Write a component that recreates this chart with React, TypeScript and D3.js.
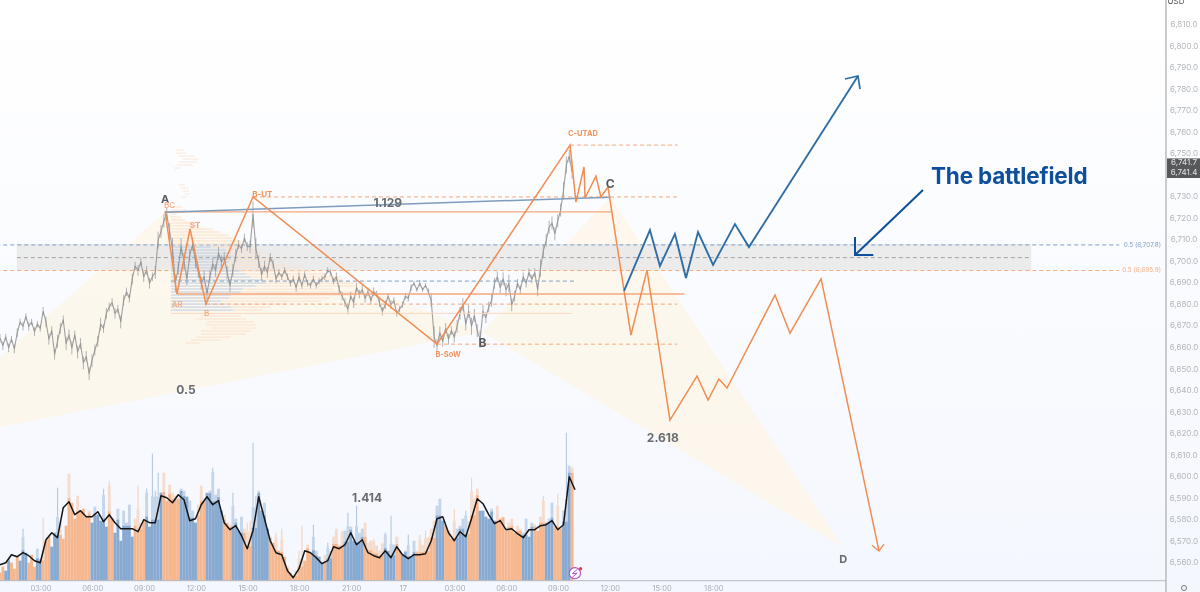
import * as d3 from 'd3';
import React from 'react';

// hours counted from midnight of the 16th
const timeTicks = [3, 6, 9, 12, 15, 18, 21, 24, 27, 30, 33, 36, 39, 42];
const timeLabels = ['03:00', '06:00', '09:00', '12:00', '15:00', '18:00', '21:00', '17', '03:00', '06:00', '09:00', '12:00', '15:00', '18:00'];
const priceTicks = [6560, 6570, 6580, 6590, 6600, 6610, 6620, 6630, 6640, 6650, 6660, 6670, 6680, 6690, 6700, 6710, 6720, 6730, 6740, 6750, 6760, 6770, 6780, 6790, 6800, 6810];

const startHour = 0.623; // first bar, then one bar each 10 minutes
const barHours = 1 / 6;

const closes = [
  6664.5, 6661, 6665, 6660, 6664, 6659.5, 6667, 6672, 6670, 6674.5,
  6670, 6672, 6667.5, 6671, 6669, 6677, 6672, 6664, 6668, 6657,
  6663, 6669, 6673, 6662, 6666, 6660, 6666, 6658, 6662, 6653,
  6656, 6648, 6654, 6659, 6663, 6671, 6669, 6676, 6679, 6681,
  6676, 6678, 6672, 6682, 6686, 6683, 6692, 6698, 6696, 6700,
  6693, 6696, 6690, 6693, 6695, 6710, 6714, 6719, 6722, 6714,
  6706, 6690, 6697, 6707, 6700, 6692, 6703, 6708, 6700, 6695,
  6690, 6693, 6685, 6693, 6699, 6696, 6704, 6700, 6702, 6695,
  6689, 6696, 6703, 6708, 6706, 6711, 6707, 6707, 6722, 6706,
  6700, 6694, 6698, 6695, 6702, 6699, 6692, 6695, 6693, 6696,
  6693, 6690, 6692, 6688, 6693, 6689, 6694, 6690, 6689, 6692,
  6689, 6691, 6692, 6693, 6696, 6695, 6691, 6693, 6687, 6684,
  6681, 6678, 6684, 6681, 6688, 6685, 6687, 6683, 6686, 6682,
  6686, 6685, 6681, 6677, 6680, 6684, 6680, 6682, 6676, 6678,
  6680, 6684, 6683, 6688, 6690, 6687, 6690, 6687, 6689, 6686,
  6682, 6665, 6661, 6667, 6663, 6669, 6664, 6668, 6665, 6670,
  6676, 6680, 6671, 6677, 6670, 6675, 6668, 6664, 6677, 6674,
  6679, 6682, 6690, 6693, 6688, 6692, 6687, 6690, 6680, 6684,
  6690, 6687, 6693, 6690, 6695, 6692, 6695, 6687, 6697, 6705,
  6710, 6716, 6718, 6713, 6719, 6724, 6733, 6745, 6749, 6741.5,
];

const ranges = [
  2, 2, 1.5, 2, 1.5, 2, 2, 1.5, 2, 1.5,
  2, 1.5, 2, 1.5, 1.5, 2, 2.5, 2.5, 2, 2.5,
  3, 2.5, 2, 3, 2.5, 3, 2, 3, 2.5, 3,
  2.5, 3, 3, 2.5, 2.5, 3, 2, 2.5, 2, 2,
  2.5, 2, 3, 2.5, 2, 2, 2.5, 2, 2.5, 2,
  2.5, 2, 2.5, 2, 3, 4, 3, 3, 3, 4,
  5, 4, 3, 4, 4, 3, 3, 3, 3, 2.5,
  3, 3, 3, 3, 3, 3, 3, 3, 2.5, 3,
  3, 3, 3, 2, 2, 2, 2, 3, 6, 5,
  3, 3, 2.5, 2.5, 2, 2, 2, 1.5, 1.5, 1.5,
  1.5, 1.5, 1.5, 2, 2, 1.5, 1.5, 1.5, 1.5, 1.5,
  1.5, 1.5, 1.5, 1.5, 1.5, 1.5, 1.5, 2, 2, 2,
  2, 2.5, 2, 2.5, 2, 2, 2, 2, 2, 2,
  2, 1.5, 2, 2, 2, 1.5, 2, 1.5, 1.5, 1.5,
  1.5, 1.5, 1.5, 1.5, 1, 1, 1.5, 1, 1, 1.5,
  3, 5, 3, 3, 2.5, 2.5, 2.5, 2, 2.5, 3,
  3, 3, 3, 3, 4, 3, 3, 4, 3, 2.5,
  2.5, 3, 2.5, 2.5, 2.5, 3, 3, 4, 3, 2.5,
  2, 2, 2, 2, 2, 2, 2, 3, 4, 3,
  3, 3, 3, 3, 3, 3, 4, 4, 3, 3,
];

const volumes = [
  8, 14, 10, 22, 18, 12, 24, 20, 52, 28,
  18, 26, 14, 32, 22, 63, 40, 46, 34, 48,
  93, 60, 42, 55, 107, 78, 62, 85, 70, 72,
  64, 70, 58, 74, 66, 60, 92, 54, 100, 62,
  48, 72, 40, 70, 58, 76, 44, 62, 95, 58,
  60, 92, 54, 127, 90, 108, 88, 108, 80, 96,
  88, 85, 82, 92, 90, 84, 80, 70, 58, 76,
  95, 82, 88, 90, 113, 86, 92, 70, 66, 58,
  56, 88, 62, 50, 64, 52, 58, 60, 138, 85,
  90, 70, 78, 52, 44, 38, 48, 30, 52, 24,
  14, 8, 6, 10, 30, 55, 20, 36, 28, 56,
  30, 24, 18, 26, 38, 30, 44, 52, 36, 50,
  50, 68, 54, 40, 75, 48, 52, 58, 38, 40,
  42, 35, 30, 38, 48, 30, 65, 36, 44, 30,
  26, 30, 46, 24, 40, 30, 46, 36, 50, 44,
  52, 60, 75, 82, 60, 55, 50, 42, 72, 52,
  55, 62, 70, 60, 103, 82, 92, 70, 70, 64,
  62, 72, 60, 75, 62, 64, 50, 58, 62, 48,
  55, 52, 48, 62, 44, 58, 56, 50, 64, 85,
  58, 62, 78, 54, 87, 52, 70, 148, 115, 113,
];

const sides = (
  'oobbooobbb' + 'ooobbooobb' + 'booooooooo' + 'oobbbbbboo' + 'bbbbbbbooo' +
  'obbbbbbooo' + 'ooobbbbbbo' + 'oobbbbbboo' + 'obbbbooobb' + 'bbbboooooo' +
  'ooooooooob' + 'bbbobboooo' + 'bbbbbbbooo' + 'oooobbbboo' + 'bbbbbooooo' +
  'oobbboooob' + 'bbboooobbb' + 'bbbooooooo' + 'oobbbboooo' + 'bbbooobbbo'
);

// volume average, one reading every second bar
const volumeAvg = [
  16, 18, 26, 24, 28, 25, 20, 18, 41, 48, 43, 73, 79, 66, 70, 64, 64, 69, 59, 66,
  58, 52, 52, 52, 49, 61, 58, 58, 85, 83, 78, 86, 81, 60, 62, 76, 84, 76, 80, 58,
  51, 55, 45, 32, 50, 84, 62, 40, 28, 26, 10, 3, 12, 30, 28, 23, 17, 20, 34, 32,
  36, 48, 36, 41, 28, 25, 23, 30, 23, 34, 26, 22, 26, 26, 27, 40, 62, 64, 48, 40,
  49, 44, 62, 82, 77, 66, 57, 60, 51, 52, 47, 43, 51, 51, 55, 56, 60, 51, 56, 104, 91,
];

// volume profile rows next to the first range
const vpPrices = [
  6751.9, 6750.5, 6749.1, 6747.7, 6746.3, 6744.9, 6743.5, 6742.1, 6735.6, 6734.2,
  6732.8, 6731.4, 6730.1, 6725.4, 6724, 6722.2, 6720.8, 6719.4, 6718, 6716.6,
  6715.2, 6713.8, 6712.4, 6711, 6709.6, 6708.2, 6706.8, 6705.4, 6704, 6702.6,
  6701.2, 6699.9, 6698.5, 6697.1, 6695.7, 6694.3, 6692.9, 6691.5, 6690.1, 6688.7,
  6687.3, 6685.9, 6684.5, 6683.1, 6681.7, 6680.3, 6678.9, 6677.5, 6674.8, 6673.4,
  6672, 6670.6, 6669.2, 6667.8, 6666.4, 6665, 6663.6, 6662.2,
];
const vpGap = [
  5, 5, 8, 12, 8, 6, 3, 3, 8, 10, 12, 14, 10, 0, 0, 0, 0, 0, 0, 0, 0, 0, 0, 0, 0, 0,
  0, 0, 0, 0, 0, 0, 0, 0, 0, 0, 0, 0, 0, 0, 0, 0, 0, 0, 0, 0, 0, 0,
  30, 25, 35, 35, 40, 30, 30, 25, 20, 15,
];
const vpBlue = [
  0, 0, 0, 0, 0, 0, 0, 0, 0, 0, 0, 0, 0, 0, 0, 0, 0, 0, 0, 0, 0, 0, 0, 0, 0, 0,
  40, 55, 60, 62, 60, 58, 55, 58, 70, 75, 80, 92, 95, 85, 72, 70, 60, 58, 50, 55, 60, 62,
  0, 0, 0, 0, 0, 0, 0, 0, 0, 0,
];
const vpOrange = [
  8, 10, 16, 16, 18, 16, 6, 2, 6, 8, 6, 4, 6, 12, 16, 6, 10, 14, 20, 26,
  42, 50, 58, 62, 70, 72, 30, 30, 30, 28, 40, 42, 60, 70, 70, 80, 90, 80, 100, 100,
  90, 120, 120, 100, 100, 60, 40, 30, 40, 50, 48, 50, 45, 50, 45, 35, 30, 14,
];

// drawn waves as hour and price
const wyckoffHours = [10.19, 10.88, 11.64, 12.56, 15.29, 25.96, 33.67, 34.01, 34.48, 34.54, 35.17, 35.46, 35.87];
const wyckoffPrices = [6723.5, 6685, 6715.2, 6680.3, 6730.1, 6661.7, 6754.2, 6727.7, 6744, 6729.6, 6739.8, 6730.1, 6734.7];
const bearHours = [35.87, 37.2, 38.13, 39.46, 41.03, 41.67, 42.3, 42.77, 45.55, 46.42, 48.22, 51.58];
const bearPrices = [6734.7, 6665.9, 6696.1, 6626.4, 6646.9, 6635.7, 6645.5, 6641.3, 6684.5, 6666.8, 6692, 6565.6];
const bullHours = [36.8, 38.3, 38.88, 39.75, 40.39, 41.09, 41.96, 43.23, 44.04, 50.36];
const bullPrices = [6686.4, 6714.7, 6698, 6712.9, 6692.4, 6713.8, 6698.5, 6717.5, 6706.8, 6786.3];

// XABCD pattern points
const patternHours = { X: -5.3, A: 10.19, B: 28.57, C: 36, D: 49.5 };
const patternPrices = { X: 6613.8, A: 6723, B: 6667.3, C: 6730, D: 6567.4 };

const W = 1200;
const H = 592;
const axisX = 1166;
const baseY = 580.7;

const x = d3.scaleLinear().domain([3, 36]).range([41, 610.25]);
const y = d3.scaleLinear().domain([6560, 6810]).range([563, 25]);
const vol = d3.scaleLinear().domain([0, 160]).range([baseY, baseY - 160]);

const priceLine = d3
  .line<number>()
  .x((_, i) => x(startHour + i * barHours))
  .y((d) => y(d));
const avgLine = d3
  .line<number>()
  .x((_, i) => x(startHour + i * 2 * barHours))
  .y((d) => vol(d));
const waveLine = (hs: number[], ps: number[]) =>
  d3.line<number>().x((h) => x(h)).y((_, i) => y(ps[i]))(hs) as string;

const ORANGE = '#f08d52';
const BLUE = '#2f6ea5';
const NAVY = '#0e4f9a';
const FONT = 'Inter, "Noto Sans", sans-serif';

const App = () => {
  const pat = (k: 'X' | 'A' | 'B' | 'C' | 'D') => `${x(patternHours[k])},${y(patternPrices[k])}`;
  const barW = x(barHours) - x(0);

  const label = (t: string, h: number, p: number, size: number, fill: string, weight = 700) => (
    <text x={x(h)} y={y(p)} fontSize={size} fill={fill} fontWeight={weight} textAnchor="middle" dominantBaseline="middle">
      {t}
    </text>
  );
  const hLine = (h0: number, h1: number, p: number, stroke: string, dash?: string, w = 1, op = 1) => (
    <line x1={x(h0)} x2={x(h1)} y1={y(p)} y2={y(p)} stroke={stroke} strokeDasharray={dash} strokeWidth={w} opacity={op} />
  );

  return (
    <svg width={W} height={H} style={{ position: 'fixed', left: 0, top: 0 }} fontFamily={FONT}>
      <defs>
        <linearGradient id="bg" x1="0" y1="0" x2="0" y2="1">
          <stop offset="0" stopColor="#ffffff" />
          <stop offset="1" stopColor="#f4f7fe" />
        </linearGradient>
        <filter id="soft" x="-5%" y="-5%" width="110%" height="110%">
          <feGaussianBlur stdDeviation="0.4" />
        </filter>
      </defs>

      <rect width={W} height={H} fill="url(#bg)" />

      <g filter="url(#soft)">
        {/* pattern triangles */}
        <polygon points={`${pat('X')} ${pat('A')} ${pat('B')}`} fill="#fdf6ea" opacity={0.85} />
        <polygon points={`${pat('B')} ${pat('C')} ${pat('D')}`} fill="#fdf6ea" opacity={0.85} />

        {/* battlefield box with fib lines */}
        <rect x={x(1.6)} width={x(60.4) - x(1.6)} y={y(6708.2)} height={y(6695.9) - y(6708.2)} fill="#e7e7e7" opacity={0.8} />
        {hLine(0, 65.5, 6707.8, '#7f9fc4', '4 3')}
        {hLine(1.6, 60.4, 6701.9, '#a3a3a8', '4 3')}
        {hLine(0, 65.5, 6695.9, '#f4ad82', '4 3')}
        <text x={1161} y={y(6707.8)} fontSize={6.4} fill="#7f9fc4" textAnchor="end" dominantBaseline="middle">0.5 (6,707.8)</text>
        <text x={1161} y={y(6695.9)} fontSize={6.4} fill="#f4ad82" textAnchor="end" dominantBaseline="middle">0.5 (6,695.9)</text>

        {/* volume profile */}
        {vpPrices.map((p, i) => {
          const left = x(10.53) + vpGap[i];
          return (
            <g key={p}>
              <rect x={left} y={y(p) - 0.9} width={vpBlue[i]} height={1.8} fill="#c9d6e3" opacity={0.7} />
              <rect x={left + vpBlue[i]} y={y(p) - 0.9} width={vpOrange[i]} height={1.8} fill="#fbdfca" opacity={i < 13 ? 0.4 : 0.5} />
            </g>
          );
        })}

        {/* volume: solid body, a paler band over it, thin faint spike on top */}
        {volumes.map((v, i) => {
          const avg = volumeAvg[Math.floor(i / 2)];
          const body = Math.min(v, avg * 1.02 + 2);
          const band = Math.min(v, avg * 1.35 + 6);
          const blue = sides[i] === 'b';
          const bx = x(startHour + i * barHours);
          const fill = blue ? '#7ea2cc' : '#f5b184';
          return (
            <g key={i}>
              <rect x={bx - barW * 0.5} width={barW} y={vol(body)} height={vol(0) - vol(body)} fill={fill} opacity={0.92} />
              {band > body && (
                <rect x={bx - barW * 0.5} width={barW} y={vol(band)} height={vol(body) - vol(band)} fill={fill} opacity={0.4} />
              )}
              {v > band && (
                <rect x={bx - 0.5} width={1.1} y={vol(v)} height={vol(band) - vol(v)} fill={blue ? '#9db8d8' : '#f3c6a6'} opacity={0.75} />
              )}
            </g>
          );
        })}
        <path d={avgLine(volumeAvg) as string} fill="none" stroke="#141414" strokeWidth={1.5} strokeLinejoin="round" />

        {/* price */}
        {closes.map((c, i) => (
          <line
            key={i}
            x1={x(startHour + i * barHours)}
            x2={x(startHour + i * barHours)}
            y1={y(c + ranges[i])}
            y2={y(c - ranges[i])}
            stroke="#9a9a9a"
            strokeWidth={1}
            opacity={0.75}
          />
        ))}
        <path d={priceLine(closes) as string} fill="none" stroke="#8f8f8f" strokeWidth={1.1} strokeLinejoin="round" opacity={0.85} />

        {/* levels */}
        {hLine(15.29, 39.9, 6730.1, '#f4a77e', '4 3')}
        {hLine(33.67, 39.9, 6754.2, '#f4a77e', '4 3')}
        {hLine(12.56, 39.9, 6680.3, '#f4a77e', '4 3')}
        {hLine(25.96, 39.9, 6661.7, '#f4a77e', '4 3')}
        {hLine(10.53, 33.9, 6691, '#7f9fc4', '4 3')}
        {hLine(10.19, 36.1, 6723.2, '#f4a77e', undefined, 1.3)}
        {hLine(10.88, 40.3, 6685, '#f4a77e', undefined, 1.3)}
        {hLine(10.53, 33.8, 6676, '#fbd7be', undefined, 1)}

        <line x1={x(patternHours.A)} y1={y(6723)} x2={x(36)} y2={y(6730)} stroke="#7f9cbd" strokeWidth={1.5} />

        {/* waves */}
        <path d={waveLine(wyckoffHours, wyckoffPrices)} fill="none" stroke={ORANGE} strokeWidth={1.5} />
        <path d={waveLine(bearHours, bearPrices)} fill="none" stroke={ORANGE} strokeWidth={1.5} />
        <path d={waveLine([51.17, 51.58, 51.87], [6568.3, 6565.6, 6568.8])} fill="none" stroke={ORANGE} strokeWidth={1.3} />
        <path d={waveLine(bullHours, bullPrices)} fill="none" stroke={BLUE} strokeWidth={1.9} />
        <path d={waveLine([49.61, 50.36, 50.48], [6784.9, 6786.3, 6780.2])} fill="none" stroke={BLUE} strokeWidth={1.7} />

        {/* battlefield arrow */}
        <path d={waveLine([54.13, 50.19], [6733.3, 6703.1])} fill="none" stroke={NAVY} strokeWidth={2} />
        <path d={waveLine([50.19, 50.19, 51.25], [6711.5, 6703.1, 6703.1])} fill="none" stroke={NAVY} strokeWidth={2} />

        {/* labels */}
        {label('A', 10.2, 6728.5, 11, '#55585c')}
        {label('BC', 10.45, 6726.2, 8, '#f3a57a', 500)}
        {label('ST', 11.93, 6716.6, 8, '#f3a57a')}
        {label('AR', 10.9, 6680, 8, '#f3a57a', 500)}
        {label('B', 12.6, 6675.6, 8, '#f3a57a', 500)}
        {label('B-UT', 15.83, 6731, 8, '#f2935c')}
        {label('1.129', 23.1, 6726.8, 12, '#6a6c70')}
        {label('C-UTAD', 34.42, 6759.6, 7.5, '#f2935c')}
        {label('C', 36, 6735.6, 12, '#55585c')}
        {label('B', 28.6, 6661.8, 12, '#55585c')}
        {label('B-SoW', 26.6, 6656.6, 7.5, '#f2935c')}
        {label('0.5', 11.4, 6639.9, 12, '#6a6c70')}
        {label('2.618', 39.05, 6617.6, 12, '#6a6c70')}
        {label('1.414', 21.9, 6589.7, 12, '#6a6c70')}
        {label('D', 49.5, 6561.3, 11, '#6a6c70')}

        {/* bolt marker */}
        <circle cx={x(33.95)} cy={vol(7.5)} r={5.6} fill="#fff" stroke="#b44fc4" strokeWidth={1.1} />
        <path
          d={`M${x(34.1)},${vol(11.5)} L${x(33.8)},${vol(7)} L${x(34.08)},${vol(7.6)} L${x(33.8)},${vol(3.5)}`}
          fill="none"
          stroke="#b44fc4"
          strokeWidth={1}
        />
        <circle cx={x(34.28)} cy={vol(12)} r={1.6} fill="#e8344e" />
      </g>

      <text x={931} y={184} fontSize={22.5} fontWeight={700} fill={NAVY} letterSpacing={-0.2} filter="url(#soft)">
        The battlefield
      </text>

      {/* axes */}
      <line x1={0} x2={axisX} y1={baseY} y2={baseY} stroke="#b7bac0" strokeWidth={1} />
      <line x1={axisX} x2={axisX} y1={0} y2={H} stroke="#b3b6bb" strokeWidth={1.4} />
      <g filter="url(#soft)">
        {priceTicks.filter((p) => p !== 6740).map((p) => (
          <text key={p} x={1184} y={y(p)} fontSize={8} fill="#b2b5ba" textAnchor="middle" dominantBaseline="middle">
            {d3.format(',.1f')(p)}
          </text>
        ))}
        {timeTicks.map((t, i) => (
          <text key={t} x={x(t)} y={588.5} fontSize={7.5} fill="#a9adb3" textAnchor="middle" dominantBaseline="middle">
            {timeLabels[i]}
          </text>
        ))}
        <rect x={1167} y={y(6748)} width={W - 1167} height={y(6738.9) - y(6748)} fill="#57585a" />
        <text x={1184} y={y(6745.9)} fontSize={8} fill="#e4e4e4" textAnchor="middle" dominantBaseline="middle">6,741.7</text>
        <text x={1184} y={y(6741.4)} fontSize={8} fill="#e4e4e4" textAnchor="middle" dominantBaseline="middle">6,741.4</text>
        <text x={1176} y={2} fontSize={8} fill="#555" textAnchor="middle" dominantBaseline="middle">USD</text>
        <circle cx={1184} cy={588} r={2.5} fill="none" stroke="#777" strokeWidth={1} />
      </g>
    </svg>
  );
};

export default App;
